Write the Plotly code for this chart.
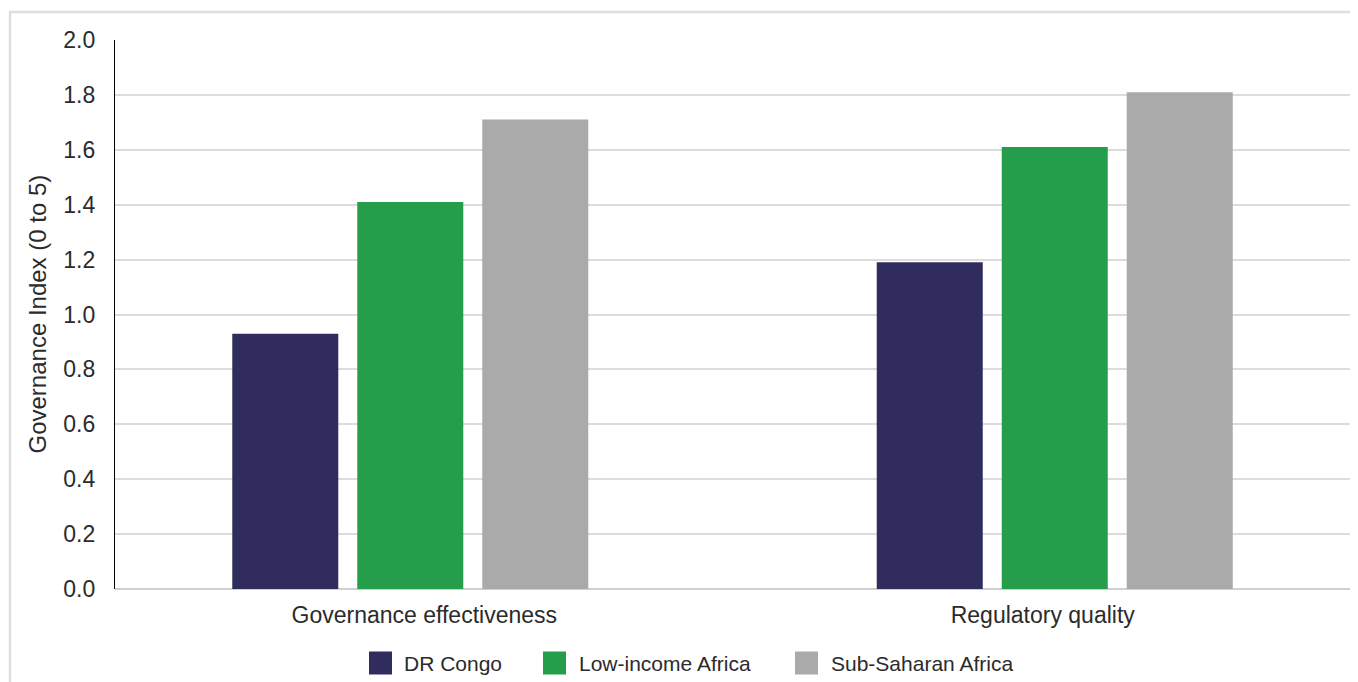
import plotly.graph_objects as go

categories = ["Governance effectiveness", "Regulatory quality"]
series_names = ["DR Congo", "Low-income Africa", "Sub-Saharan Africa"]
dr_congo = [0.93, 1.19]
low_income = [1.41, 1.61]
sub_saharan = [1.71, 1.81]
y_ticks = [0.0, 0.2, 0.4, 0.6, 0.8, 1.0, 1.2, 1.4, 1.6, 1.8, 2.0]

colors = ["#312C5E", "#249E4A", "#AAAAAA"]
offsets = [[-0.3104, -0.2684], [-0.1083, -0.0663], [0.0938, 0.1358]]
bar_w = 0.1714
font_family = "Liberation Sans, Arial, sans-serif"
text_color = "#2B2B2B"

W, H = 1350, 674
ML, MR, MT, MB = 107, 6, 32, 93
PW, PH = W - ML - MR, H - MT - MB


def px(x):
    return (x - ML) / PW


def py(y):
    return (H - MB - y) / PH


fig = go.Figure()
for name, vals, col, off in zip(series_names, [dr_congo, low_income, sub_saharan], colors, offsets):
    fig.add_trace(go.Bar(x=categories, y=vals, name=name, marker=dict(color=col, line=dict(width=0)),
                         width=bar_w, offset=off, showlegend=False, hoverinfo="y+name"))

# manual legend (square swatches + real text)
legend_sq_x = [361, 535, 787]
legend_txt_x = [394, 569, 821]
sq_size = 23
leg_cy = 655
shapes = [dict(type="rect", xref="paper", yref="paper", x0=px(2), x1=1.02, y0=-0.2, y1=py(4),
               line=dict(color="#DDDDDD", width=2.5), fillcolor="rgba(0,0,0,0)", layer="below")]
annotations = [dict(text="Governance Index (0 to 5)", textangle=-90, xref="paper", yref="paper",
                    x=px(29), y=0.5, xanchor="center", yanchor="middle", showarrow=False,
                    font=dict(size=24, color=text_color))]
for name, col, sx, tx in zip(series_names, colors, legend_sq_x, legend_txt_x):
    shapes.append(dict(type="rect", xref="paper", yref="paper",
                       x0=px(sx), x1=px(sx + sq_size), y0=py(leg_cy + sq_size / 2), y1=py(leg_cy - sq_size / 2),
                       line=dict(width=0), fillcolor=col))
    annotations.append(dict(text=name, xref="paper", yref="paper", x=px(tx), y=py(leg_cy),
                            xanchor="left", yanchor="middle", showarrow=False,
                            font=dict(size=21, color=text_color)))

fig.update_layout(
    width=W, height=H,
    margin=dict(l=ML, r=MR, t=MT, b=MB),
    paper_bgcolor="white", plot_bgcolor="white",
    barmode="overlay", showlegend=False,
    font=dict(family=font_family, color=text_color, size=23),
    xaxis=dict(type="category", range=[-0.5, 1.5], showgrid=False, showline=False,
               ticks="", tickfont=dict(size=23, color=text_color), ticklabelstandoff=10),
    yaxis=dict(range=[0, 2.0], tickvals=y_ticks, ticktext=[f"{v:.1f}" for v in y_ticks],
               showgrid=True, gridcolor="#DCDCDC", gridwidth=1.5,
               zeroline=True, zerolinecolor="#D0D0D0", zerolinewidth=1.5,
               showline=True, linecolor="#000000", linewidth=1.2,
               ticks="", tickfont=dict(size=23, color=text_color), ticklabelstandoff=14),
    annotations=annotations,
    shapes=shapes,
)

fig.write_html("out.html")
